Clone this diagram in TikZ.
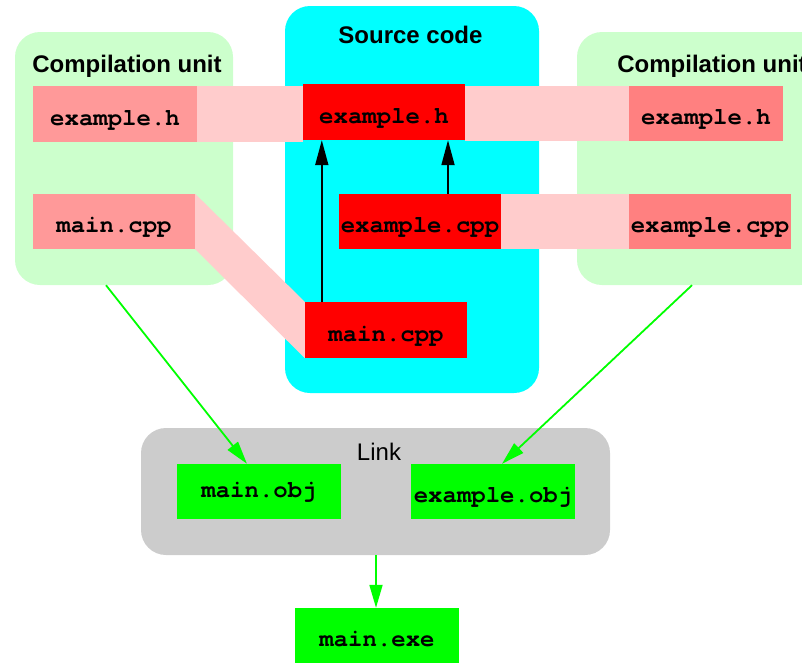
\documentclass[tikz,border=0pt]{standalone}
\usepackage{fontspec}
\setmainfont{Liberation Sans}
\newfontfamily\codefont{TeX Gyre Cursor}
\usetikzlibrary{arrows.meta}
\pgfdeclarelayer{back}
\pgfdeclarelayer{mid}
\pgfsetlayers{back,mid,main}

\definecolor{unitgreen}{HTML}{CCFFCC}
\definecolor{srccyan}{HTML}{00FFFF}
\definecolor{linkgray}{HTML}{CCCCCC}
\definecolor{bandpink}{HTML}{FFCCCC}
\definecolor{leftpink}{HTML}{FF9999}
\definecolor{rightpink}{HTML}{FF8080}
\definecolor{srcred}{HTML}{FF0000}
\definecolor{objgreen}{HTML}{00FF00}

\tikzset{
  container/.style={rectangle, rounded corners=25pt, draw=none, inner sep=0pt},
  title/.style={anchor=base, inner sep=0pt, font=\fontsize{24}{28}\selectfont\bfseries},
  file/.style={rectangle, draw=none, inner sep=0pt, minimum width=162pt, minimum height=55pt,
    text height=22pt, text depth=0pt, font=\fontsize{24}{28}\selectfont\codefont\bfseries},
  band/.style={fill=bandpink, draw=none},
  dep/.style={draw=black, line width=1.8pt, -{Triangle[length=25pt,width=13pt]}},
  flow/.style={draw=objgreen, line width=1.8pt, -{Triangle[length=23pt,width=13pt]}},
}

\begin{document}
\begin{tikzpicture}[x=1pt,y=-1pt]
\clip (0,0) rectangle (802,662);

% grouping panels
\begin{pgfonlayer}{back}
  \node[container, fill=unitgreen, minimum width=218pt, minimum height=253pt] (cuL) at (124,158.5) {};
  \node[container, fill=srccyan, minimum width=254pt, minimum height=387pt] (src) at (412,199.5) {};
  \node[container, fill=unitgreen, minimum width=248pt, minimum height=253pt] (cuR) at (701,158.5) {};
  \node[container, fill=linkgray, minimum width=469pt, minimum height=127pt] (link) at (375.5,491.5) {};
\end{pgfonlayer}

% panel titles
\node[title] (tL) at (127,72) {Compilation unit};
\node[title] (tS) at (410.5,43) {Source code};
\node[title] (tR) at (712,72) {Compilation unit};
\node[title, font=\fontsize{24}{28}\selectfont] (tLink) at (379,460) {Link};

% files of the left compilation unit
\node[file, fill=leftpink, minimum width=164pt, minimum height=56pt] (Lh) at (115,114) {example.h};
\node[file, fill=leftpink] (Lcpp) at (114,221.5) {main.cpp};

% source files
\node[file, fill=srcred, minimum height=56pt] (Sh) at (384,112) {example.h};
\node[file, fill=srcred] (Scpp) at (420,221.5) {example.cpp};
\node[file, fill=srcred, minimum height=56pt] (Smain) at (386,330) {main.cpp};

% files of the right compilation unit
\node[file, fill=rightpink, minimum width=154pt] (Rh) at (706,113.5) {example.h};
\node[file, fill=rightpink] (Rcpp) at (710,221.5) {example.cpp};

% object files and executable
\node[file, fill=objgreen, minimum width=164pt, text height=11pt] (mobj) at (259,491.5) {main.obj};
\node[file, fill=objgreen, minimum width=164pt] (eobj) at (493,491.5) {example.obj};
\node[file, fill=objgreen, minimum width=164pt] (mexe) at (377,635.5) {main.exe};

% pink bands tying copies to their sources
\begin{pgfonlayer}{mid}
  \fill[band] (Lh.north east) rectangle (Sh.west |- Lh.south);
  \fill[band] (Sh.east |- Rh.north) rectangle (Rh.south west);
  \fill[band] (Scpp.north east) rectangle (Rcpp.south west);
  \fill[band] (Lcpp.north east) -- (Smain.north west) -- (Smain.south west) -- (Lcpp.south east) -- cycle;
\end{pgfonlayer}

% include dependencies
\draw[dep] ([xshift=17pt]Smain.north west) -- ([xshift=17pt]Smain.north west |- Sh.south);
\draw[dep] ([xshift=28pt]Scpp.north) -- ([xshift=28pt]Scpp.north |- Sh.south);

% build flow
\draw[flow] ([xshift=-18pt]cuL.south) -- ([xshift=-12pt]mobj.north);
\draw[flow] ([xshift=-9pt]cuR.south) -- ([xshift=9pt]eobj.north);
\draw[flow] ([xshift=0.5pt]link.south) -- ([xshift=0.5pt]link.south |- mexe.north);
\end{tikzpicture}
\end{document}
